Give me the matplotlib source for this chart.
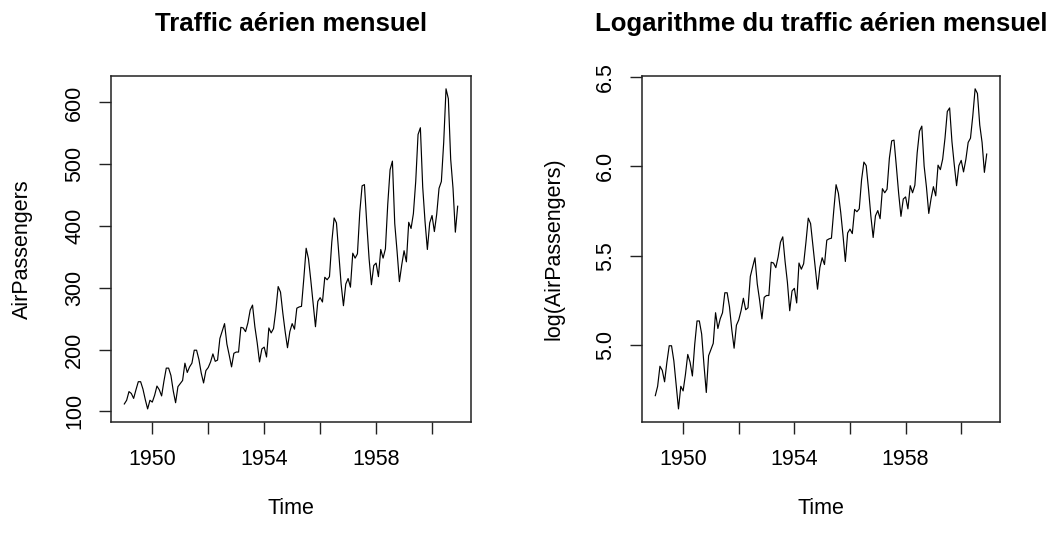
import numpy as np
import matplotlib.pyplot as plt

plt.rcParams['font.family'] = ['Liberation Sans', 'DejaVu Sans']

# monthly airline passengers (thousands), Jan 1949 - Dec 1960
passengers = [
    112, 118, 132, 129, 121, 135, 148, 148, 136, 119, 104, 118,
    115, 126, 141, 135, 125, 149, 170, 170, 158, 133, 114, 140,
    145, 150, 178, 163, 172, 178, 199, 199, 184, 162, 146, 166,
    171, 180, 193, 181, 183, 218, 230, 242, 209, 191, 172, 194,
    196, 196, 236, 235, 229, 243, 264, 272, 237, 211, 180, 201,
    204, 188, 235, 227, 234, 264, 302, 293, 259, 229, 203, 229,
    242, 233, 267, 269, 270, 315, 364, 347, 312, 274, 237, 278,
    284, 277, 317, 313, 318, 374, 413, 405, 355, 306, 271, 306,
    315, 301, 356, 348, 355, 422, 465, 467, 404, 347, 305, 336,
    340, 318, 362, 348, 363, 435, 491, 505, 404, 359, 310, 337,
    360, 342, 406, 396, 420, 472, 548, 559, 463, 407, 362, 405,
    417, 391, 419, 461, 472, 535, 622, 606, 508, 461, 390, 432,
]
start_year = 1949
x_ticks = [1950, 1952, 1954, 1956, 1958, 1960]
x_labels = ['1950', '', '1954', '', '1958', '']
left_yticks = [100, 200, 300, 400, 500, 600]
right_yticks = [5.0, 5.5, 6.0, 6.5]

ap = np.array(passengers, dtype=float)
t = start_year + np.arange(len(ap)) / 12.0
log_ap = np.log(ap)


def r_style(ax, y, yticks, ylabel, title, yfmt):
    ax.plot(t, y, color='black', lw=0.85)
    # R pads both axes by 4% of the range
    xr = t.max() - t.min()
    yr = y.max() - y.min()
    ax.set_xlim(t.min() - 0.04 * xr, t.max() + 0.04 * xr)
    ax.set_ylim(y.min() - 0.04 * yr, y.max() + 0.04 * yr)
    ax.tick_params(length=8.5, width=1.0, labelsize=15.5, color='#222222')
    ax.tick_params(axis='x', pad=11)
    ax.tick_params(axis='y', pad=10)
    ax.set_xticks(x_ticks)
    ax.set_xticklabels(x_labels)
    ax.set_yticks(yticks)
    ax.set_yticklabels([yfmt(v) for v in yticks], rotation=90, va='center')
    for sp in ax.spines.values():
        sp.set_linewidth(1.1)
        sp.set_color('#222222')
    ax.set_xlabel('Time', fontsize=15.5, va='center')
    ax.xaxis.set_label_coords(0.5, -0.2525)
    ax.set_ylabel(ylabel, fontsize=15.5, va='center')
    ax.yaxis.set_label_coords(-0.247, 0.5)
    ax.set_title(title, fontsize=18.5, fontweight='bold', y=1.150, va='center', pad=0)


fig = plt.figure(figsize=(10.63, 5.41), dpi=100)
ax1 = fig.add_axes([0.1044, 0.2205, 0.3387, 0.6390])
ax2 = fig.add_axes([0.6040, 0.2205, 0.3367, 0.6390])

r_style(ax1, ap, left_yticks, 'AirPassengers', 'Traffic aérien mensuel',
        lambda v: f'{v:d}')
r_style(ax2, log_ap, right_yticks, 'log(AirPassengers)',
        'Logarithme du traffic aérien mensuel', lambda v: f'{v:.1f}')

fig.savefig('out.png', dpi=100)
